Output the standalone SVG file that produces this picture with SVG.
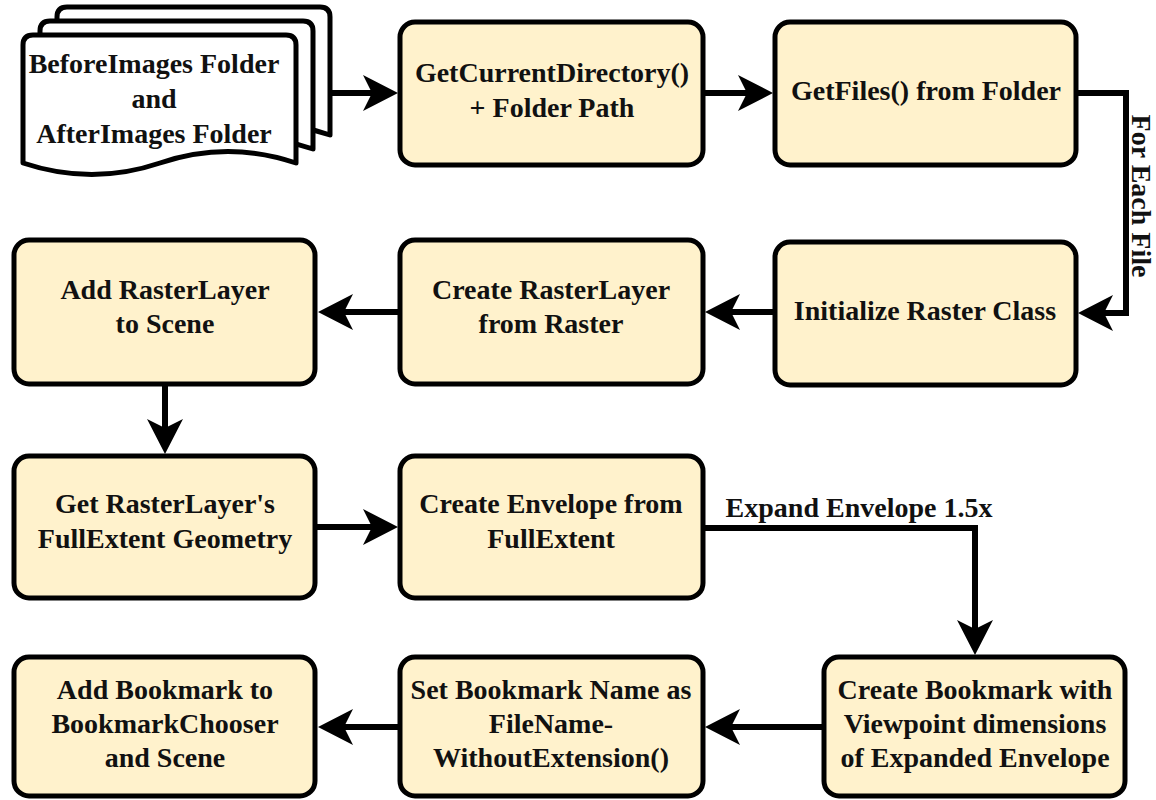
<svg xmlns="http://www.w3.org/2000/svg" width="1156" height="800" viewBox="0 0 1156 800">
  <style>
    .box { fill: #fff2cc; stroke: #000; stroke-width: 5; }
    .doc { fill: #fff; stroke: #000; stroke-width: 5; stroke-linejoin: round; }
    .lbl { font-family: "Liberation Serif", "Times New Roman", serif; font-weight: bold; font-size: 28px; fill: #111; text-anchor: middle; }
    .edge { fill: none; stroke: #000; stroke-width: 6; }
  </style>
  <defs>
    <marker id="arrow" markerUnits="userSpaceOnUse" viewBox="0 0 36 38" refX="10" refY="19" markerWidth="36" markerHeight="38" orient="auto">
      <path d="M36,19 L1,1 L10,19 L1,37 Z" fill="#000"/>
    </marker>
  </defs>

  <rect width="1156" height="800" fill="#fff"/>

  <!-- Folder document stack -->
  <g id="folders">
    <path class="doc" transform="translate(34,-28)" d="M23,163 V45 Q23,35 33,35 H286 Q296,35 296,45 V163 Q228,140 160,163 Q92,186 23,163 Z"/>
    <path class="doc" transform="translate(17,-14)" d="M23,163 V45 Q23,35 33,35 H286 Q296,35 296,45 V163 Q228,140 160,163 Q92,186 23,163 Z"/>
    <path class="doc" d="M23,163 V45 Q23,35 33,35 H286 Q296,35 296,45 V163 Q228,140 160,163 Q92,186 23,163 Z"/>
    <text class="lbl" x="154" y="73">BeforeImages Folder</text>
    <text class="lbl" x="154" y="108">and</text>
    <text class="lbl" x="154" y="143">AfterImages Folder</text>
  </g>

  <g id="get-current-directory">
    <rect class="box" x="400" y="22" width="303" height="143" rx="15"/>
    <text class="lbl" x="552" y="82">GetCurrentDirectory()</text>
    <text class="lbl" x="552" y="117">+ Folder Path</text>
  </g>

  <g id="get-files">
    <rect class="box" x="775" y="22" width="301" height="143" rx="15"/>
    <text class="lbl" x="926" y="100">GetFiles() from Folder</text>
  </g>

  <g id="add-raster-layer">
    <rect class="box" x="14" y="240" width="301" height="144" rx="15"/>
    <text class="lbl" x="165" y="299">Add RasterLayer</text>
    <text class="lbl" x="165" y="333">to Scene</text>
  </g>

  <g id="create-raster-layer">
    <rect class="box" x="400" y="240" width="303" height="144" rx="15"/>
    <text class="lbl" x="551" y="299">Create RasterLayer</text>
    <text class="lbl" x="551" y="333">from Raster</text>
  </g>

  <g id="initialize-raster">
    <rect class="box" x="775" y="242" width="301" height="143" rx="15"/>
    <text class="lbl" x="925" y="320">Initialize Raster Class</text>
  </g>

  <g id="get-full-extent">
    <rect class="box" x="14" y="456" width="301" height="142" rx="15"/>
    <text class="lbl" x="165" y="513">Get RasterLayer's</text>
    <text class="lbl" x="165" y="548">FullExtent Geometry</text>
  </g>

  <g id="create-envelope">
    <rect class="box" x="400" y="456" width="303" height="142" rx="15"/>
    <text class="lbl" x="551" y="513">Create Envelope from</text>
    <text class="lbl" x="551" y="548">FullExtent</text>
  </g>

  <g id="create-bookmark">
    <rect class="box" x="824" y="657" width="301" height="139" rx="15"/>
    <text class="lbl" x="975" y="699">Create Bookmark with</text>
    <text class="lbl" x="975" y="733">Viewpoint dimensions</text>
    <text class="lbl" x="975" y="767">of Expanded Envelope</text>
  </g>

  <g id="set-bookmark-name">
    <rect class="box" x="400" y="657" width="303" height="139" rx="15"/>
    <text class="lbl" x="551" y="699">Set Bookmark Name as</text>
    <text class="lbl" x="551" y="733">FileName-</text>
    <text class="lbl" x="551" y="767">WithoutExtension()</text>
  </g>

  <g id="add-bookmark">
    <rect class="box" x="14" y="657" width="301" height="139" rx="15"/>
    <text class="lbl" x="165" y="699">Add Bookmark to</text>
    <text class="lbl" x="165" y="733">BookmarkChooser</text>
    <text class="lbl" x="165" y="767">and Scene</text>
  </g>

  <!-- Connectors -->
  <g id="connectors">
    <path class="edge" marker-end="url(#arrow)" d="M330,93 H372"/>
    <path class="edge" marker-end="url(#arrow)" d="M705,93 H747"/>
    <path class="edge" marker-end="url(#arrow)" d="M1078,93 H1126 V313 H1104"/>
    <path class="edge" marker-end="url(#arrow)" d="M773,312 H731"/>
    <path class="edge" marker-end="url(#arrow)" d="M398,312 H344"/>
    <path class="edge" marker-end="url(#arrow)" d="M165,386 V428"/>
    <path class="edge" marker-end="url(#arrow)" d="M317,527 H372"/>
    <path class="edge" marker-end="url(#arrow)" d="M705,528 H975 V629"/>
    <path class="edge" marker-end="url(#arrow)" d="M822,727 H731"/>
    <path class="edge" marker-end="url(#arrow)" d="M398,727 H344"/>
    <text class="lbl" transform="translate(1132,196) rotate(90)">For Each File</text>
    <text class="lbl" x="859" y="517">Expand Envelope 1.5x</text>
  </g>
</svg>
